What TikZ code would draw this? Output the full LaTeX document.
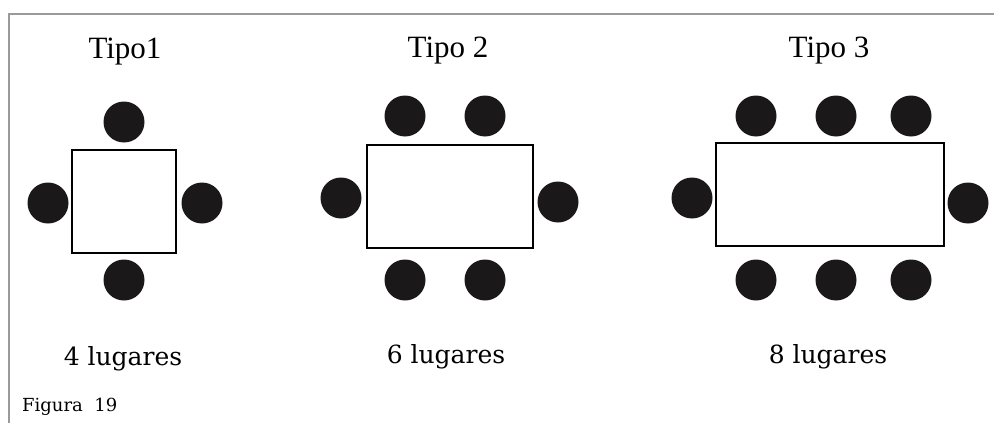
\documentclass[tikz,border=0pt]{standalone}
\usepackage{fontspec}
\setmainfont{Liberation Serif}
\newfontfamily\lugfont{DejaVu Serif}
\usepackage{tikz}
\usetikzlibrary{positioning}
\definecolor{marcoGris}{HTML}{9A9A9A}
\definecolor{sillaNegro}{HTML}{1A1818}

\begin{document}
\begin{tikzpicture}[
        x=1pt, y=-1pt,
        mesa/.style={
            draw=black,
            line width=1.6pt,
            inner sep=0pt
        },
        silla/.style={
            circle,
            fill=sillaNegro,
            minimum size=41pt,
            inner sep=0pt
        },
        titulo/.style={
            font=\fontsize{31}{34}\selectfont,
            anchor=base
        },
        lugares/.style={
            font=\lugfont\fontsize{25}{28}\selectfont,
            anchor=base
        }
    ]
    \useasboundingbox (0,0) rectangle (994,423);
    
    % marco
    \draw[marcoGris, line width=2.8pt] (9,423) -- (9,14) -- (994,14);
    
    % Tipo 1
    \node[titulo] (tit1) at (125,58) {Tipo1};
    \node[mesa, minimum width=104pt, minimum height=103pt] (mesa1) at (124,201.5) {};
    \node[silla] (s1a) at (124,122) {};
    \node[silla] (s1b) at (48,203) {};
    \node[silla] (s1c) at (202,203) {};
    \node[silla] (s1d) at (124,280) {};
    \node[lugares] (lug1) at (123,365) {4 lugares};
    
    % Tipo 2
    \node[titulo] (tit2) at (448,57) {Tipo 2};
    \node[mesa, minimum width=166pt, minimum height=103pt] (mesa2) at (450,196.5) {};
    \foreach \x [count=\i] in {405,485} {
        \node[silla] (s2t\i) at (\x,116) {};
        \node[silla] (s2b\i) at (\x,280) {};
    }
    \node[silla] (s2l) at (341,198) {};
    \node[silla] (s2r) at (558,202) {};
    \node[lugares] (lug2) at (446,363) {6 lugares};
    
    % Tipo 3
    \node[titulo] (tit3) at (829,57) {Tipo 3};
    \node[mesa, minimum width=228pt, minimum height=103pt] (mesa3) at (830,194.5) {};
    \foreach \x [count=\i] in {756,836,911} {
        \node[silla] (s3t\i) at (\x,116) {};
        \node[silla] (s3b\i) at (\x,280) {};
    }
    \node[silla] (s3l) at (692,198) {};
    \node[silla] (s3r) at (968,203) {};
    \node[lugares] (lug3) at (828,363) {8 lugares};
    
    \node[font=\lugfont\fontsize{18}{20}\selectfont, anchor=base west, inner sep=0pt] (fig) at (22,411) {Figura\ \ 19};
    
\end{tikzpicture}
\end{document}
